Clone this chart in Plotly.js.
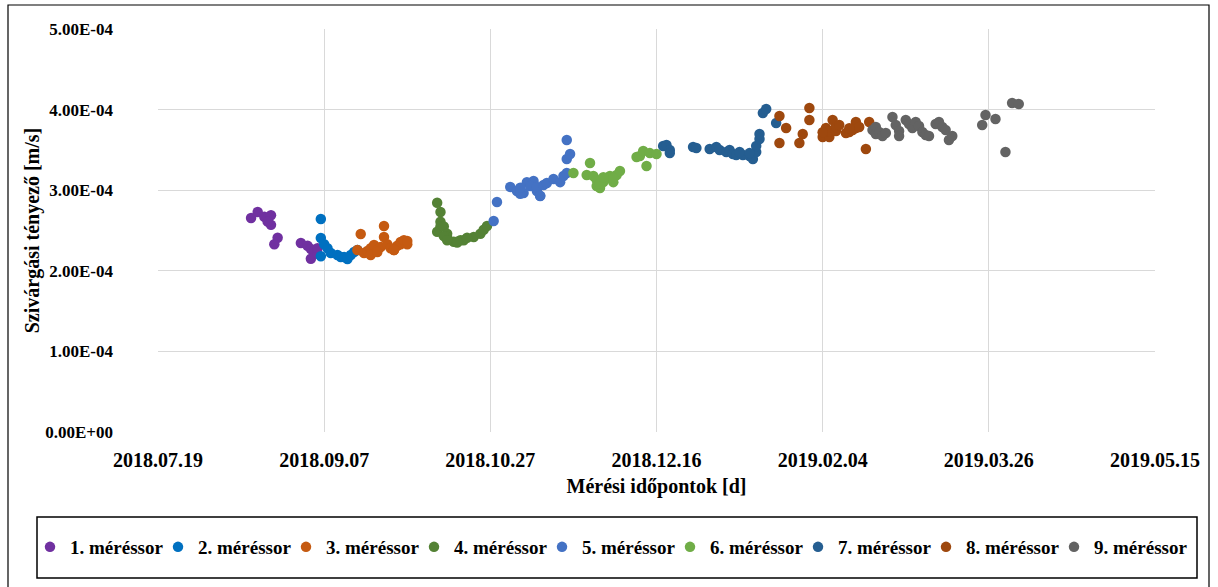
<!DOCTYPE html>
<html>
<head>
<meta charset="utf-8">
<script src="https://cdn.plot.ly/plotly-3.0.1.min.js"></script>
<style>
  html, body { margin: 0; padding: 0; background: #ffffff; }
  #chart { width: 1218px; height: 587px; }
</style>
</head>
<body>
<div id="chart"></div>
<script>
// ---- Data ----
const seriesNames = ["1. méréssor","2. méréssor","3. méréssor","4. méréssor","5. méréssor","6. méréssor","7. méréssor","8. méréssor","9. méréssor"];
const seriesColors = ["#7030A0","#0070C0","#C55A11","#548235","#4472C4","#70AD47","#255E91","#9E480E","#636363"];

const s1Dates = ["2018-08-16","2018-08-18","2018-08-20","2018-08-22","2018-08-22","2018-08-21","2018-08-24","2018-08-23","2018-08-31","2018-09-02","2018-09-03","2018-09-04","2018-09-03","2018-09-05","2018-09-05"];
const s1Values = [2.655e-4,2.73e-4,2.67e-4,2.69e-4,2.57e-4,2.61e-4,2.41e-4,2.33e-4,2.345e-4,2.31e-4,2.27e-4,2.245e-4,2.15e-4,2.21e-4,2.28e-4];

const s2Dates = ["2018-09-06","2018-09-06","2018-09-07","2018-09-08","2018-09-06","2018-09-09","2018-09-11","2018-09-12","2018-09-13","2018-09-14","2018-09-15","2018-09-16","2018-09-17"];
const s2Values = [2.643e-4,2.407e-4,2.33e-4,2.28e-4,2.18e-4,2.22e-4,2.196e-4,2.17e-4,2.17e-4,2.146e-4,2.196e-4,2.233e-4,2.258e-4];

const s3Dates = ["2018-09-17","2018-09-18","2018-09-19","2018-09-20","2018-09-21","2018-09-22","2018-09-23","2018-09-24","2018-09-25","2018-09-25","2018-09-26","2018-09-27","2018-09-28","2018-09-29","2018-09-30","2018-09-30","2018-10-01","2018-10-02","2018-09-21","2018-09-23","2018-09-28","2018-10-02"];
const s3Values = [2.258e-4,2.457e-4,2.22e-4,2.246e-4,2.28e-4,2.32e-4,2.258e-4,2.295e-4,2.42e-4,2.556e-4,2.33e-4,2.28e-4,2.258e-4,2.31e-4,2.33e-4,2.357e-4,2.38e-4,2.33e-4,2.196e-4,2.233e-4,2.258e-4,2.37e-4];

const s4Dates = ["2018-10-11","2018-10-12","2018-10-12","2018-10-12","2018-10-11","2018-10-13","2018-10-14","2018-10-14","2018-10-16","2018-10-17","2018-10-18","2018-10-19","2018-10-22","2018-10-24","2018-10-25","2018-10-26","2018-10-13","2018-10-14","2018-10-17","2018-10-20"];
const s4Values = [2.845e-4,2.73e-4,2.61e-4,2.55e-4,2.485e-4,2.55e-4,2.46e-4,2.42e-4,2.36e-4,2.35e-4,2.38e-4,2.38e-4,2.42e-4,2.46e-4,2.51e-4,2.555e-4,2.43e-4,2.38e-4,2.36e-4,2.41e-4];

const s5Dates = ["2018-10-28","2018-10-29","2018-11-02","2018-11-04","2018-11-05","2018-11-06","2018-11-07","2018-11-09","2018-11-08","2018-11-10","2018-11-10","2018-11-11","2018-11-12","2018-11-13","2018-11-15","2018-11-17","2018-11-18","2018-11-19","2018-11-19","2018-11-20","2018-11-19","2018-11-05","2018-11-11","2018-11-05"];
const s5Values = [2.618e-4,2.854e-4,3.04e-4,2.99e-4,3.015e-4,2.965e-4,3.10e-4,3.114e-4,3.052e-4,2.99e-4,3.04e-4,2.928e-4,3.065e-4,3.09e-4,3.139e-4,3.10e-4,3.176e-4,3.213e-4,3.387e-4,3.449e-4,3.623e-4,2.955e-4,2.93e-4,3.03e-4];

const s6Dates = ["2018-11-21","2018-11-25","2018-11-26","2018-11-27","2018-11-28","2018-11-28","2018-11-29","2018-11-30","2018-12-01","2018-12-02","2018-12-03","2018-12-04","2018-12-05","2018-12-10","2018-12-11","2018-12-12","2018-12-13","2018-12-14","2018-12-16","2018-11-29","2018-11-30","2018-12-03"];
const s6Values = [3.213e-4,3.189e-4,3.338e-4,3.176e-4,3.127e-4,3.052e-4,3.027e-4,3.10e-4,3.151e-4,3.176e-4,3.10e-4,3.189e-4,3.238e-4,3.412e-4,3.424e-4,3.486e-4,3.30e-4,3.46e-4,3.449e-4,3.08e-4,3.16e-4,3.15e-4];

const s7Dates = ["2018-12-18","2018-12-19","2018-12-20","2018-12-20","2018-12-27","2018-12-28","2019-01-01","2019-01-03","2019-01-04","2019-01-06","2019-01-07","2019-01-08","2019-01-09","2019-01-11","2019-01-13","2019-01-14","2019-01-15","2019-01-15","2019-01-16","2019-01-16","2019-01-17","2019-01-18","2019-01-21","2019-01-10","2019-01-13"];
const s7Values = [3.548e-4,3.561e-4,3.499e-4,3.462e-4,3.536e-4,3.524e-4,3.511e-4,3.536e-4,3.499e-4,3.474e-4,3.499e-4,3.449e-4,3.437e-4,3.437e-4,3.424e-4,3.387e-4,3.474e-4,3.548e-4,3.635e-4,3.697e-4,3.958e-4,4.007e-4,3.834e-4,3.474e-4,3.46e-4];

const s8Dates = ["2019-01-22","2019-01-22","2019-01-24","2019-01-28","2019-01-29","2019-01-31","2019-01-31","2019-02-04","2019-02-05","2019-02-06","2019-02-06","2019-02-07","2019-02-08","2019-02-08","2019-02-09","2019-02-11","2019-02-12","2019-02-13","2019-02-14","2019-02-14","2019-02-15","2019-02-17","2019-02-18","2019-02-04","2019-02-12"];
const s8Values = [3.921e-4,3.586e-4,3.772e-4,3.586e-4,3.697e-4,4.02e-4,3.871e-4,3.66e-4,3.772e-4,3.66e-4,3.735e-4,3.871e-4,3.735e-4,3.784e-4,3.809e-4,3.71e-4,3.722e-4,3.747e-4,3.772e-4,3.846e-4,3.784e-4,3.511e-4,3.846e-4,3.72e-4,3.77e-4];

const s9Dates = ["2019-02-19","2019-02-20","2019-02-20","2019-02-21","2019-02-22","2019-02-23","2019-02-25","2019-02-26","2019-02-27","2019-02-27","2019-03-01","2019-03-02","2019-03-03","2019-03-04","2019-03-05","2019-03-06","2019-03-07","2019-03-08","2019-03-10","2019-03-11","2019-03-12","2019-03-13","2019-03-14","2019-03-15","2019-03-24","2019-03-25","2019-03-28","2019-03-31","2019-04-02","2019-04-04"];
const s9Values = [3.747e-4,3.784e-4,3.697e-4,3.722e-4,3.672e-4,3.71e-4,3.908e-4,3.809e-4,3.735e-4,3.672e-4,3.871e-4,3.821e-4,3.772e-4,3.846e-4,3.796e-4,3.722e-4,3.685e-4,3.672e-4,3.821e-4,3.846e-4,3.784e-4,3.747e-4,3.623e-4,3.672e-4,3.809e-4,3.933e-4,3.883e-4,3.474e-4,4.082e-4,4.07e-4];

const yTickValues = [0, 1e-4, 2e-4, 3e-4, 4e-4, 5e-4];
const yTickLabels = ["0.00E+00","1.00E-04","2.00E-04","3.00E-04","4.00E-04","5.00E-04"];
const xRange = ["2018-07-19","2019-05-15"];
const xTitle = "Mérési időpontok [d]";
const yTitle = "Szivárgási tényező [m/s]";

// ---- Build traces ----
const allDates = [s1Dates,s2Dates,s3Dates,s4Dates,s5Dates,s6Dates,s7Dates,s8Dates,s9Dates];
const allValues = [s1Values,s2Values,s3Values,s4Values,s5Values,s6Values,s7Values,s8Values,s9Values];

const FONT = "Liberation Serif, 'Times New Roman', serif";
const ENTRY_STEP = 128; // px between legend entries
const legendId = (i) => (i === 0 ? "legend" : "legend" + (i + 1));

const traces = seriesNames.map((name, i) => ({
  type: "scatter",
  mode: "markers",
  name: name,
  x: allDates[i],
  y: allValues[i],
  legend: legendId(i),
  marker: { color: seriesColors[i], size: 10.5, line: { width: 0 } }
}));

const W = 1218, H = 587;
const L = 158, R = 63, T = 29, B = 155;
const pw = W - L - R, ph = H - T - B;
const px = (x) => (x - L) / pw;
const py = (y) => (H - B - y) / ph;

const legendFont = { family: FONT, size: 19, color: "#000000", weight: "bold" };

const layout = {
  width: W, height: H,
  margin: { l: L, r: R, t: T, b: B, pad: 0 },
  paper_bgcolor: "#ffffff",
  plot_bgcolor: "#ffffff",
  font: { family: FONT, size: 17, color: "#000000", weight: "bold" },
  showlegend: true,
  xaxis: {
    type: "date",
    range: xRange,
    tick0: xRange[0],
    dtick: 50 * 86400000,
    tickformat: "%Y.%m.%d",
    showgrid: true, gridcolor: "#D9D9D9", gridwidth: 1,
    zeroline: false, showline: false,
    ticks: "", ticklabelstandoff: 14,
    tickfont: { family: FONT, size: 20, color: "#000000", weight: "bold" },
    title: { text: xTitle, font: { family: FONT, size: 20, color: "#000000", weight: "bold" }, standoff: 8 },
    fixedrange: true
  },
  yaxis: {
    range: [0, 5e-4],
    tickmode: "array",
    tickvals: yTickValues,
    ticktext: yTickLabels,
    showgrid: true, gridcolor: "#D9D9D9", gridwidth: 1,
    zeroline: false, showline: false,
    ticks: "", ticklabelstandoff: 44,
    tickfont: { family: FONT, size: 17, color: "#000000", weight: "bold" },
    title: { text: yTitle, font: { family: FONT, size: 20, color: "#000000", weight: "bold" }, standoff: 0 },
    fixedrange: true
  },
  shapes: [
    { type: "rect", xref: "paper", yref: "paper", x0: px(8), x1: px(1209), y0: py(640), y1: py(5),
      line: { color: "#000000", width: 1.2 }, fillcolor: "rgba(0,0,0,0)", layer: "below" },
    { type: "rect", xref: "paper", yref: "paper", x0: px(37), x1: px(1197), y0: py(578), y1: py(517),
      line: { color: "#000000", width: 1.5 }, fillcolor: "rgba(0,0,0,0)", layer: "below" }
  ]
};

seriesNames.forEach((_, i) => {
  layout[legendId(i)] = {
    orientation: "h",
    x: px(30 + i * ENTRY_STEP), xanchor: "left",
    y: py(547), yanchor: "middle",
    itemwidth: 30,
    font: legendFont,
    bgcolor: "rgba(0,0,0,0)",
    borderwidth: 0
  };
});

Plotly.newPlot("chart", traces, layout, { displayModeBar: false, staticPlot: true });
</script>
</body>
</html>
